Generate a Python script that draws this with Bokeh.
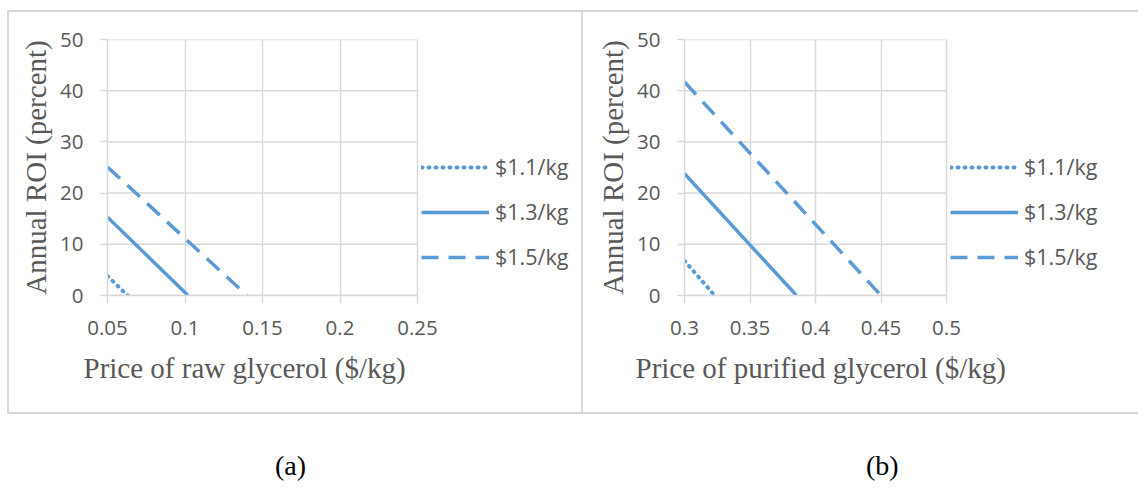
from bokeh.plotting import figure
from bokeh.models import Range1d, FixedTicker, Legend, LegendItem, Div, Spacer, Title
from bokeh.layouts import row, column
from bokeh.embed import file_html
from bokeh.resources import INLINE

# ---------------- data ----------------
series_names = ["$1.1/kg", "$1.3/kg", "$1.5/kg"]

# (a) raw glycerol
raw_x_11 = [0.05, 0.063]
raw_y_11 = [3.8, 0.0]
raw_x_13 = [0.05, 0.102]
raw_y_13 = [15.3, 0.0]
raw_x_15 = [0.05, 0.14]
raw_y_15 = [25.1, 0.0]

# (b) purified glycerol
pur_x_11 = [0.30, 0.323]
pur_y_11 = [6.8, 0.0]
pur_x_13 = [0.30, 0.3855]
pur_y_13 = [23.8, 0.0]
pur_x_15 = [0.30, 0.45]
pur_y_15 = [41.7, 0.0]

raw_ticks = [0.05, 0.1, 0.15, 0.2, 0.25]
raw_tick_labels = ["0.05", "0.1", "0.15", "0.2", "0.25"]
pur_ticks = [0.3, 0.35, 0.4, 0.45, 0.5]
pur_tick_labels = ["0.3", "0.35", "0.4", "0.45", "0.5"]
roi_ticks = [0, 10, 20, 30, 40, 50]
roi_tick_labels = ["0", "10", "20", "30", "40", "50"]

y_title = "Annual ROI (percent)"
raw_x_title = "Price of raw glycerol ($/kg)"
pur_x_title = "Price of purified glycerol ($/kg)"
captions = ["(a)", "(b)"]

# ---------------- style ----------------
BLUE = "#5B9BD5"
GRID = "#D9D9D9"
TEXT = "#595959"
dashes = [("1 6", "round", 4), ("solid", "butt", 3.5), ("17 10", "butt", 3.5)]
TICK_FONT = "20.5px"
LEG_FONT = "21.5px"
H = 404
TOP, BOTTOM = 29, 119

SH_L = "inset 2px 0 0 %s" % GRID
SH_R = "inset -2px 0 0 %s" % GRID
SH_T = "inset 0 2px 0 %s" % GRID
SH_B = "inset 0 -2px 0 %s" % GRID


def make_panel(width, left, axis_px, xs, ys, ticks, tick_labels, x_title,
               title_offset, legend_x, shadow):
    # the frame runs to the right edge of the panel so that the legend
    # (drawn inside the frame) is not clipped; the axis occupies axis_px pixels
    frame_px = width - left
    x_end = ticks[0] + (ticks[-1] - ticks[0]) * frame_px / axis_px
    p = figure(width=width, height=H, output_backend="svg", toolbar_location=None,
               x_range=Range1d(ticks[0], x_end), y_range=Range1d(0, 50),
               min_border_left=left, min_border_right=0,
               min_border_top=TOP, min_border_bottom=BOTTOM)
    if "frame_align" in p.properties():
        p.frame_align = False
    p.styles = {"box-shadow": shadow}
    p.outline_line_color = None
    p.background_fill_alpha = 0
    p.border_fill_alpha = 0

    p.xgrid.grid_line_color = GRID
    p.xgrid.grid_line_width = 1.5
    p.xgrid.ticker = FixedTicker(ticks=ticks)
    p.ygrid.visible = False
    # horizontal gridlines limited to the axis extent
    p.segment(x0=ticks[0], x1=ticks[-1], y0=roi_ticks, y1=roi_ticks,
              line_color=GRID, line_width=1.5)

    p.xaxis.ticker = FixedTicker(ticks=ticks)
    p.xaxis.major_label_overrides = dict(zip(ticks, tick_labels))
    p.xaxis.bounds = (ticks[0], ticks[-1])
    p.yaxis.ticker = FixedTicker(ticks=roi_ticks)
    p.yaxis.major_label_overrides = dict(zip(roi_ticks, roi_tick_labels))

    for ax in (p.xaxis, p.yaxis):
        ax.axis_line_color = GRID
        ax.axis_line_width = 1.5
        ax.major_tick_line_color = GRID
        ax.major_tick_line_width = 1.5
        ax.major_tick_in = 0
        ax.minor_tick_line_color = None
        ax.major_label_text_font = "Open Sans"
        ax.major_label_text_font_size = TICK_FONT
        ax.major_label_text_color = TEXT
        ax.axis_label_text_font = "Liberation Serif"
        ax.axis_label_text_font_size = "29px"
        ax.axis_label_text_font_style = "normal"
        ax.axis_label_text_color = TEXT
    p.xaxis.major_tick_out = 8
    p.yaxis.major_tick_out = 7
    p.xaxis.major_label_standoff = 17
    p.yaxis.major_label_standoff = 17
    p.yaxis.axis_label = y_title
    p.yaxis.axis_label_standoff = 5

    xt = Title(text=x_title, align="left", offset=title_offset, standoff=24,
               text_font="Liberation Serif", text_font_size="29px",
               text_font_style="normal", text_color=TEXT)
    p.add_layout(xt, "below")

    items = []
    for (x, y), name, (dash, cap, lw) in zip(zip(xs, ys), series_names, dashes):
        r = p.line(x, y, line_color=BLUE, line_width=lw, line_dash=dash, line_cap=cap)
        items.append(LegendItem(label=name, renderers=[r]))

    legend = Legend(items=items, location=(legend_x, 24),
                    border_line_color=None, background_fill_alpha=0,
                    padding=0, margin=0, glyph_width=68, glyph_height=20,
                    label_height=20, spacing=16, label_standoff=6,
                    label_text_font="Open Sans", label_text_font_size=LEG_FONT,
                    label_text_color=TEXT)
    p.add_layout(legend)
    return p


pa = make_panel(576, 100, 310, [raw_x_11, raw_x_13, raw_x_15],
                [raw_y_11, raw_y_13, raw_y_15], raw_ticks, raw_tick_labels,
                raw_x_title, -24, 314, ", ".join([SH_L, SH_R, SH_T, SH_B]))
pb = make_panel(555, 101, 262, [pur_x_11, pur_x_13, pur_x_15],
                [pur_y_11, pur_y_13, pur_y_15], pur_ticks, pur_tick_labels,
                pur_x_title, -49, 266, ", ".join([SH_T, SH_B]))

cap_style = {"font-family": "'Liberation Serif', serif", "font-size": "28px",
             "color": "black", "line-height": "34px"}
cap_a = Div(text=captions[0], width=40, height=34, margin=(35, 0, 0, 275), styles=cap_style)
cap_b = Div(text=captions[1], width=40, height=34, margin=(35, 0, 0, 551), styles=cap_style)

layout = column(Spacer(height=10),
                row(Spacer(width=7), pa, pb),
                row(cap_a, cap_b))
open("out.html", "w").write(file_html(layout, INLINE))
